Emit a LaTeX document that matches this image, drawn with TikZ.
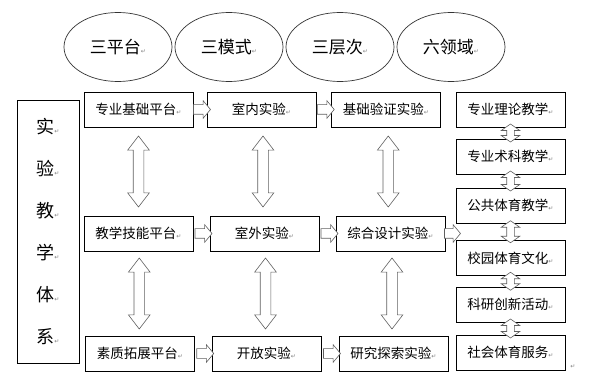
\documentclass[tikz,border=0pt]{standalone}
\usepackage{fontspec}
\usepackage{xcolor}
\usepackage{tikz}
\usetikzlibrary{positioning, shapes.geometric, shapes.arrows}
\setmainfont{Noto Sans CJK SC}
\newfontfamily\retfont{DejaVu Sans}
\definecolor{arrowgray}{HTML}{606060}
\newcommand{\pmark}{{\retfont\fontsize{6}{6}\selectfont\textcolor{gray}{↵}}}

\begin{document}
\begin{tikzpicture}[
    x=1pt, y=-1pt,
    topnode/.style={ellipse, draw=black!80, line width=0.7pt, minimum width=108pt, minimum height=69pt, font=\fontsize{17}{17}\selectfont},
    platbox/.style={rectangle, draw, line width=0.7pt, minimum width=109pt, minimum height=35pt, inner sep=0pt, font=\fontsize{13.5}{13.5}\selectfont},
    sidebox/.style={rectangle, draw, line width=0.7pt, minimum width=62pt, minimum height=263pt, inner sep=0pt, align=center, font=\fontsize{18}{42}\selectfont},
    harrow/.style={single arrow, draw=arrowgray, fill=white, line width=0.6pt, inner sep=0pt, text height=9pt, text depth=0pt, text width=2pt, minimum width=17pt, single arrow head extend=4pt, single arrow tip angle=100, minimum height=17pt},
    varrow/.style={double arrow, shape border rotate=90, draw=arrowgray, fill=white, line width=0.6pt, inner sep=0pt, text height=10pt, text depth=0pt, text width=10pt, minimum width=21pt, double arrow head extend=5.5pt, double arrow tip angle=75, minimum height=71pt},
    smallarrow/.style={varrow, text height=7pt, text width=7pt, minimum width=18pt, double arrow head extend=5.5pt, double arrow tip angle=110, minimum height=#1},
    smallarrow/.default=20pt
]
\useasboundingbox (0,0) rectangle (590,377);

% Top ellipses
\node[topnode] (e1) at (118,47) {三平台\pmark};
\node[topnode] (e2) at (229,47) {三模式\pmark};
\node[topnode] (e3) at (340,47) {三层次\pmark};
\node[topnode] (e4) at (451,47) {六领域\pmark};

% Left title box
\node[sidebox] (sys) at (48,231.5) {实\pmark\\验\pmark\\教\pmark\\学\pmark\\体\pmark\\系\pmark};

% Platforms
\node[platbox] (p1) at (138.5,109.5) {专业基础平台\pmark};
\node[platbox] (p2) at (138.5,233.5) {教学技能平台\pmark};
\node[platbox] (p3) at (140,353.5) {素质拓展平台\pmark};

% Modes
\node[platbox] (m1) at (261.5,109.5) {室内实验\pmark};
\node[platbox] (m2) at (264.5,233.5) {室外实验\pmark};
\node[platbox] (m3) at (266.5,353.5) {开放实验\pmark};

% Levels
\node[platbox] (l1) at (386,109.5) {基础验证实验\pmark};
\node[platbox] (l2) at (390.5,233.5) {综合设计实验\pmark};
\node[platbox] (l3) at (393.5,353.5) {研究探索实验\pmark};

% Fields
\node[platbox] (f1) at (510.5,109.5) {专业理论教学\pmark};
\node[platbox] (f2) at (510.5,156.5) {专业术科教学\pmark};
\node[platbox] (f3) at (510.5,205.5) {公共体育教学\pmark};
\node[platbox] (f4) at (510.5,258) {校园体育文化\pmark};
\node[platbox] (f5) at (510.5,304.5) {科研创新活动\pmark};
\node[platbox] (f6) at (510.5,352.5) {社会体育服务\pmark};

% Stray paragraph mark
\node[inner sep=0pt] (pm) at (573,367) {\pmark};

% Horizontal block arrows
\path (p1.east) -- (m1.west) node[midway, harrow] (a11) {};
\path (p2.east) -- (m2.west) node[midway, harrow] (a21) {};
\path (p3.east) -- (m3.west) node[midway, harrow] (a31) {};
\path (m1.east) -- (l1.west) node[midway, harrow] (a12) {};
\path (m2.east) -- (l2.west) node[midway, harrow] (a22) {};
\path (m3.east) -- (l3.west) node[midway, harrow] (a32) {};
\path (l2.east) -- (f4.west |- l2.east) node[midway, harrow, minimum height=16pt] (a23) {};

% Vertical double arrows
\path (p1.south) -- (p2.north) node[midway, varrow] (v1) {};
\path (p2.south) -- (p3.north) node[midway, varrow] (v2) {};
\path (m1.south) -- (m2.north) node[midway, varrow] (v3) {};
\path (m2.south) -- (m3.north) node[midway, varrow] (v4) {};
\path (l1.south) -- (l2.north) node[midway, varrow] (v5) {};
\path (l2.south) -- (l3.north) node[midway, varrow] (v6) {};

% Small double arrows between fields
\path (f1.south) -- (f2.north) node[midway, smallarrow=18pt] (s1) {};
\path (f2.south) -- (f3.north) node[midway, smallarrow=20pt] (s2) {};
\path (f3.south) -- (f4.north) node[midway, smallarrow=22pt] (s3) {};
\path (f4.south) -- (f5.north) node[midway, smallarrow=18pt] (s4) {};
\path (f5.south) -- (f6.north) node[midway, smallarrow=19pt] (s5) {};

\end{tikzpicture}
\end{document}
